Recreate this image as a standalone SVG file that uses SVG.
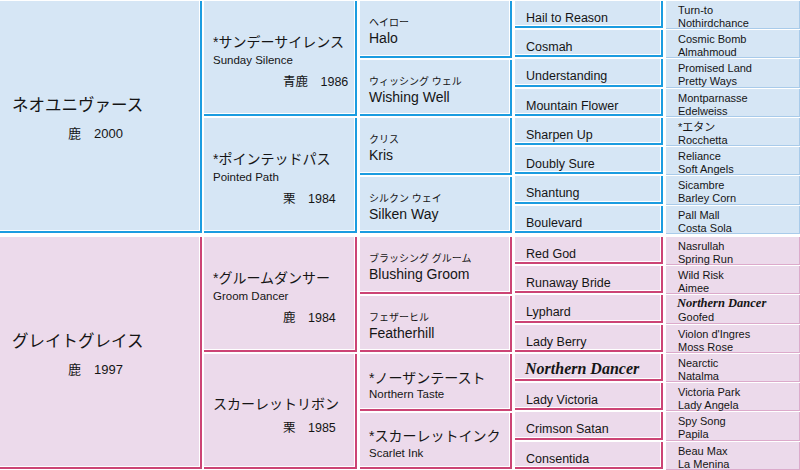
<svg xmlns="http://www.w3.org/2000/svg" width="800" height="470" viewBox="0 0 800 470">
<style>
.ft{fill:#d6e6f5}.fb{fill:#ecdaeb}
.et{fill:none;stroke:#1b9ce0;stroke-width:2}.eb{fill:none;stroke:#cc4475;stroke-width:2}
.hw{fill:none;stroke:#ffffff;stroke-width:1}
.tt{fill:none;stroke:#a9cbea;stroke-width:1}.tb{fill:none;stroke:#dcaacb;stroke-width:1}
text{font-family:"Liberation Sans","Noto Sans CJK JP",sans-serif;fill:#151515}
.n1{font-size:16.5px}.y1{font-size:13px}
.n2{font-size:14px}.e2{font-size:11.5px}.y2{font-size:12.5px}
.k3{font-size:10px}.n3{font-size:14px}
.n4{font-size:12.5px}.n5{font-size:11px}
.nd4{font-family:"Liberation Serif",serif;font-weight:bold;font-style:italic;font-size:16px}
.nd5{font-family:"Liberation Serif",serif;font-weight:bold;font-style:italic;font-size:12.5px}
</style>
<rect x="0" y="0" width="800" height="470" fill="#ffffff"/>
<g id="connectors"/>
<!-- Top half -->
<g id="neo-universe">
<rect class="ft" x="0" y="1" width="202" height="232"/>
<path class="hw" d="M199.5,1V231M0,230.5H200"/><path class="et" d="M201,1V233M0,232H202"/>
<text class="n1" x="12" y="111">ネオユニヴァース</text>
<text class="y1" x="68" y="138">鹿　2000</text>
</g>
<g id="sunday-silence">
<rect class="ft" x="204" y="1" width="153" height="115"/>
<path class="hw" d="M354.5,1V114M204,113.5H355"/><path class="et" d="M356,1V116M204,115H357"/>
<text class="n2" x="213" y="47">*サンデーサイレンス</text>
<text class="e2" x="213" y="64">Sunday Silence</text>
<text class="y2" x="283" y="86">青鹿　1986</text>
</g>
<g id="pointed-path">
<rect class="ft" x="204" y="118" width="153" height="115"/>
<path class="hw" d="M354.5,118V231M204,230.5H355"/><path class="et" d="M356,118V233M204,232H357"/>
<text class="n2" x="213" y="164">*ポインテッドパス</text>
<text class="e2" x="213" y="181">Pointed Path</text>
<text class="y2" x="283" y="203">栗　1984</text>
</g>
<g id="halo">
<rect class="ft" x="360" y="1" width="152" height="57"/>
<path class="hw" d="M509.5,1V56M360,55.5H510"/><path class="et" d="M511,1V58M360,57H512"/>
<text class="k3" x="369" y="26">ヘイロー</text><text class="n3" x="369" y="43">Halo</text>
</g>
<g id="wishing-well">
<rect class="ft" x="360" y="60" width="152" height="56"/>
<path class="hw" d="M509.5,60V114M360,113.5H510"/><path class="et" d="M511,60V116M360,115H512"/>
<text class="k3" x="369" y="85">ウィッシング ウェル</text><text class="n3" x="369" y="102">Wishing Well</text>
</g>
<g id="kris">
<rect class="ft" x="360" y="118" width="152" height="57"/>
<path class="hw" d="M509.5,118V173M360,172.5H510"/><path class="et" d="M511,118V175M360,174H512"/>
<text class="k3" x="369" y="143">クリス</text><text class="n3" x="369" y="160">Kris</text>
</g>
<g id="silken-way">
<rect class="ft" x="360" y="177" width="152" height="56"/>
<path class="hw" d="M509.5,177V231M360,230.5H510"/><path class="et" d="M511,177V233M360,232H512"/>
<text class="k3" x="369" y="202">シルクン ウェイ</text><text class="n3" x="369" y="219">Silken Way</text>
</g>
<g id="hail-to-reason"><rect class="ft" x="515" y="1" width="148" height="27"/><path class="hw" d="M660.5,1V26M515,25.5H661"/><path class="et" d="M662,1V28M515,27H663"/><text class="n4" x="526" y="21.5">Hail to Reason</text></g>
<g id="cosmah"><rect class="ft" x="515" y="30" width="148" height="27"/><path class="hw" d="M660.5,30V55M515,54.5H661"/><path class="et" d="M662,30V57M515,56H663"/><text class="n4" x="526" y="50.5">Cosmah</text></g>
<g id="understanding"><rect class="ft" x="515" y="59" width="148" height="28"/><path class="hw" d="M660.5,59V85M515,84.5H661"/><path class="et" d="M662,59V87M515,86H663"/><text class="n4" x="526" y="79.5">Understanding</text></g>
<g id="mountain-flower"><rect class="ft" x="515" y="89" width="148" height="27"/><path class="hw" d="M660.5,89V114M515,113.5H661"/><path class="et" d="M662,89V116M515,115H663"/><text class="n4" x="526" y="109.5">Mountain Flower</text></g>
<g id="sharpen-up"><rect class="ft" x="515" y="118" width="148" height="27"/><path class="hw" d="M660.5,118V143M515,142.5H661"/><path class="et" d="M662,118V145M515,144H663"/><text class="n4" x="526" y="138.5">Sharpen Up</text></g>
<g id="doubly-sure"><rect class="ft" x="515" y="147" width="148" height="27"/><path class="hw" d="M660.5,147V172M515,171.5H661"/><path class="et" d="M662,147V174M515,173H663"/><text class="n4" x="526" y="167.5">Doubly Sure</text></g>
<g id="shantung"><rect class="ft" x="515" y="176" width="148" height="28"/><path class="hw" d="M660.5,176V202M515,201.5H661"/><path class="et" d="M662,176V204M515,203H663"/><text class="n4" x="526" y="196.5">Shantung</text></g>
<g id="boulevard"><rect class="ft" x="515" y="206" width="148" height="27"/><path class="hw" d="M660.5,206V231M515,230.5H661"/><path class="et" d="M662,206V233M515,232H663"/><text class="n4" x="526" y="226.5">Boulevard</text></g>
<g id="g5-t1"><rect class="ft" x="666" y="1" width="134" height="28"/><path class="tt" d="M799.5,1V29M666,28.5H800"/><text class="n5" x="678" y="13.5">Turn-to</text><text class="n5" x="678" y="26.5">Nothirdchance</text></g>
<g id="g5-t2"><rect class="ft" x="666" y="30" width="134" height="28"/><path class="tt" d="M799.5,30V58M666,57.5H800"/><text class="n5" x="678" y="42.5">Cosmic Bomb</text><text class="n5" x="678" y="55.5">Almahmoud</text></g>
<g id="g5-t3"><rect class="ft" x="666" y="59" width="134" height="29"/><path class="tt" d="M799.5,59V88M666,87.5H800"/><text class="n5" x="678" y="71.5">Promised Land</text><text class="n5" x="678" y="84.5">Pretty Ways</text></g>
<g id="g5-t4"><rect class="ft" x="666" y="89" width="134" height="28"/><path class="tt" d="M799.5,89V117M666,116.5H800"/><text class="n5" x="678" y="101.5">Montparnasse</text><text class="n5" x="678" y="114.5">Edelweiss</text></g>
<g id="g5-t5"><rect class="ft" x="666" y="118" width="134" height="28"/><path class="tt" d="M799.5,118V146M666,145.5H800"/><text class="n5" x="678" y="130.5">*エタン</text><text class="n5" x="678" y="143.5">Rocchetta</text></g>
<g id="g5-t6"><rect class="ft" x="666" y="147" width="134" height="28"/><path class="tt" d="M799.5,147V175M666,174.5H800"/><text class="n5" x="678" y="159.5">Reliance</text><text class="n5" x="678" y="172.5">Soft Angels</text></g>
<g id="g5-t7"><rect class="ft" x="666" y="176" width="134" height="29"/><path class="tt" d="M799.5,176V205M666,204.5H800"/><text class="n5" x="678" y="188.5">Sicambre</text><text class="n5" x="678" y="201.5">Barley Corn</text></g>
<g id="g5-t8"><rect class="ft" x="666" y="206" width="134" height="28"/><path class="tt" d="M799.5,206V234M666,233.5H800"/><text class="n5" x="678" y="218.5">Pall Mall</text><text class="n5" x="678" y="231.5">Costa Sola</text></g>
<!-- Bottom half -->
<g id="great-grace">
<rect class="fb" x="0" y="237" width="202" height="232"/>
<path class="hw" d="M199.5,237V467M0,466.5H200"/><path class="eb" d="M201,237V469M0,468H202"/>
<text class="n1" x="12" y="347">グレイトグレイス</text>
<text class="y1" x="68" y="374">鹿　1997</text>
</g>
<g id="groom-dancer">
<rect class="fb" x="204" y="237" width="153" height="115"/>
<path class="hw" d="M354.5,237V350M204,349.5H355"/><path class="eb" d="M356,237V352M204,351H357"/>
<text class="n2" x="213" y="283">*グルームダンサー</text>
<text class="e2" x="213" y="300">Groom Dancer</text>
<text class="y2" x="283" y="322">鹿　1984</text>
</g>
<g id="scarlet-ribbon">
<rect class="fb" x="204" y="354" width="153" height="115"/>
<path class="hw" d="M354.5,354V467M204,466.5H355"/><path class="eb" d="M356,354V469M204,468H357"/>
<text class="n2" x="213" y="409">スカーレットリボン</text>
<text class="y2" x="283" y="432">栗　1985</text>
</g>
<g id="blushing-groom">
<rect class="fb" x="360" y="237" width="152" height="57"/>
<path class="hw" d="M509.5,237V292M360,291.5H510"/><path class="eb" d="M511,237V294M360,293H512"/>
<text class="k3" x="369" y="262">ブラッシング グルーム</text><text class="n3" x="369" y="279">Blushing Groom</text>
</g>
<g id="featherhill">
<rect class="fb" x="360" y="296" width="152" height="56"/>
<path class="hw" d="M509.5,296V350M360,349.5H510"/><path class="eb" d="M511,296V352M360,351H512"/>
<text class="k3" x="369" y="321">フェザーヒル</text><text class="n3" x="369" y="338">Featherhill</text>
</g>
<g id="northern-taste">
<rect class="fb" x="360" y="354" width="152" height="57"/>
<path class="hw" d="M509.5,354V409M360,408.5H510"/><path class="eb" d="M511,354V411M360,410H512"/>
<text class="n2" x="369" y="383">*ノーザンテースト</text><text class="e2" x="369" y="398">Northern Taste</text>
</g>
<g id="scarlet-ink">
<rect class="fb" x="360" y="413" width="152" height="56"/>
<path class="hw" d="M509.5,413V467M360,466.5H510"/><path class="eb" d="M511,413V469M360,468H512"/>
<text class="n2" x="369" y="441">*スカーレットインク</text><text class="e2" x="369" y="457">Scarlet Ink</text>
</g>
<g id="red-god"><rect class="fb" x="515" y="237" width="148" height="27"/><path class="hw" d="M660.5,237V262M515,261.5H661"/><path class="eb" d="M662,237V264M515,263H663"/><text class="n4" x="526" y="258">Red God</text></g>
<g id="runaway-bride"><rect class="fb" x="515" y="266" width="148" height="27"/><path class="hw" d="M660.5,266V291M515,290.5H661"/><path class="eb" d="M662,266V293M515,292H663"/><text class="n4" x="526" y="287">Runaway Bride</text></g>
<g id="lyphard"><rect class="fb" x="515" y="295" width="148" height="28"/><path class="hw" d="M660.5,295V321M515,320.5H661"/><path class="eb" d="M662,295V323M515,322H663"/><text class="n4" x="526" y="316">Lyphard</text></g>
<g id="lady-berry"><rect class="fb" x="515" y="325" width="148" height="27"/><path class="hw" d="M660.5,325V350M515,349.5H661"/><path class="eb" d="M662,325V352M515,351H663"/><text class="n4" x="526" y="346">Lady Berry</text></g>
<g id="northern-dancer"><rect class="fb" x="515" y="354" width="148" height="27"/><path class="hw" d="M660.5,354V379M515,378.5H661"/><path class="eb" d="M662,354V381M515,380H663"/><text class="nd4" x="525" y="374">Northern Dancer</text></g>
<g id="lady-victoria"><rect class="fb" x="515" y="383" width="148" height="27"/><path class="hw" d="M660.5,383V408M515,407.5H661"/><path class="eb" d="M662,383V410M515,409H663"/><text class="n4" x="526" y="404">Lady Victoria</text></g>
<g id="crimson-satan"><rect class="fb" x="515" y="412" width="148" height="28"/><path class="hw" d="M660.5,412V438M515,437.5H661"/><path class="eb" d="M662,412V440M515,439H663"/><text class="n4" x="526" y="433">Crimson Satan</text></g>
<g id="consentida"><rect class="fb" x="515" y="442" width="148" height="27"/><path class="hw" d="M660.5,442V467M515,466.5H661"/><path class="eb" d="M662,442V469M515,468H663"/><text class="n4" x="526" y="463">Consentida</text></g>
<g id="g5-b1"><rect class="fb" x="666" y="237" width="134" height="28"/><path class="tb" d="M799.5,237V265M666,264.5H800"/><text class="n5" x="678" y="249.5">Nasrullah</text><text class="n5" x="678" y="262.5">Spring Run</text></g>
<g id="g5-b2"><rect class="fb" x="666" y="266" width="134" height="28"/><path class="tb" d="M799.5,266V294M666,293.5H800"/><text class="n5" x="678" y="278.5">Wild Risk</text><text class="n5" x="678" y="291.5">Aimee</text></g>
<g id="g5-b3"><rect class="fb" x="666" y="295" width="134" height="29"/><path class="tb" d="M799.5,295V324M666,323.5H800"/><text class="nd5" x="677" y="307">Northern Dancer</text><text class="n5" x="678" y="320.5">Goofed</text></g>
<g id="g5-b4"><rect class="fb" x="666" y="325" width="134" height="28"/><path class="tb" d="M799.5,325V353M666,352.5H800"/><text class="n5" x="678" y="337.5">Violon d'Ingres</text><text class="n5" x="678" y="350.5">Moss Rose</text></g>
<g id="g5-b5"><rect class="fb" x="666" y="354" width="134" height="28"/><path class="tb" d="M799.5,354V382M666,381.5H800"/><text class="n5" x="678" y="366.5">Nearctic</text><text class="n5" x="678" y="379.5">Natalma</text></g>
<g id="g5-b6"><rect class="fb" x="666" y="383" width="134" height="28"/><path class="tb" d="M799.5,383V411M666,410.5H800"/><text class="n5" x="678" y="395.5">Victoria Park</text><text class="n5" x="678" y="408.5">Lady Angela</text></g>
<g id="g5-b7"><rect class="fb" x="666" y="412" width="134" height="29"/><path class="tb" d="M799.5,412V441M666,440.5H800"/><text class="n5" x="678" y="424.5">Spy Song</text><text class="n5" x="678" y="437.5">Papila</text></g>
<g id="g5-b8"><rect class="fb" x="666" y="442" width="134" height="28"/><path class="tb" d="M799.5,442V470M666,469.5H800"/><text class="n5" x="678" y="454.5">Beau Max</text><text class="n5" x="678" y="467.5">La Menina</text></g>
</svg>
